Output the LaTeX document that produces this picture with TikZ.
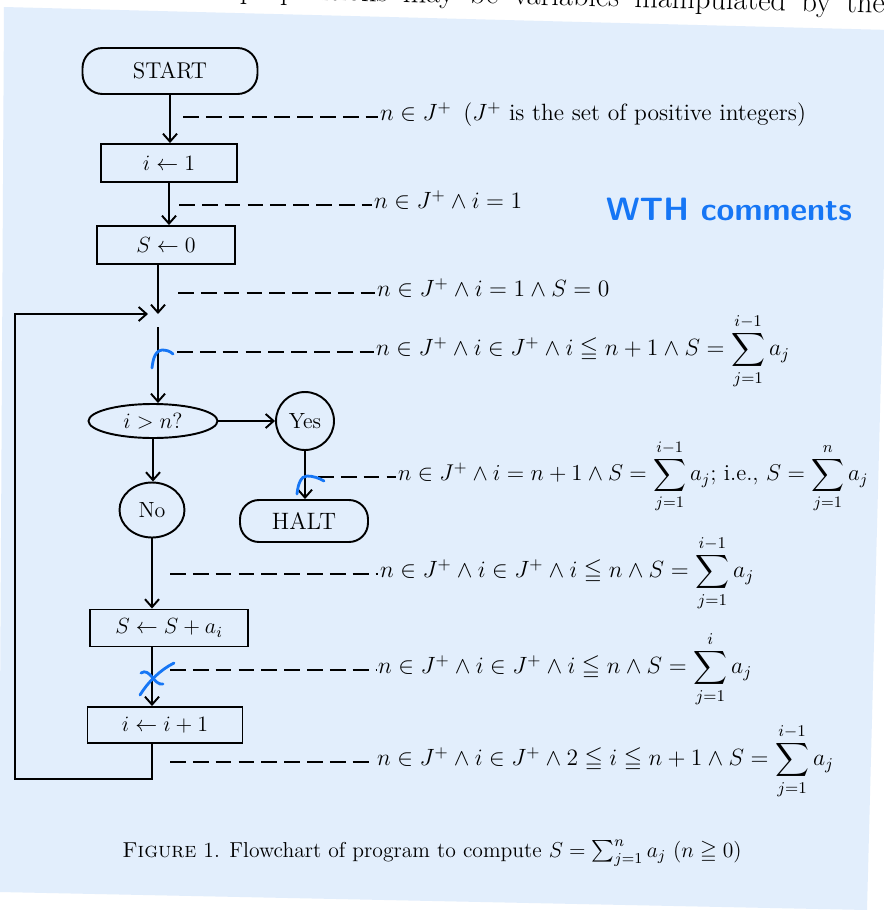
\RequirePackage{fix-cm}
\documentclass[tikz,border=0pt]{standalone}
\usepackage{amsmath,amssymb}
\usepackage{tikz}
\usetikzlibrary{arrows.meta,positioning,calc,shapes.geometric}
\definecolor{scanblue}{RGB}{226,238,252}
\definecolor{penblue}{RGB}{22,118,245}

\begin{document}
\begin{tikzpicture}[x=0.02cm, y=-0.02cm,
  box/.style={draw, line width=1.1pt, minimum height=0.76cm, inner sep=0pt,
    font=\fontsize{12.5}{15}\selectfont},
  oval/.style={ellipse, draw, line width=1.1pt, inner sep=0pt,
    font=\fontsize{12.5}{15}\selectfont},
  flow/.style={->, line width=1.1pt},
  note/.style={anchor=mid west, inner sep=1pt, font=\fontsize{13.4}{16}\selectfont},
  lead/.style={line width=0.8pt, dash pattern=on 9pt off 4pt},
  pen/.style={draw=penblue, line width=1.6pt, line cap=round},
  >={Straight Barb[length=4.5pt,width=8pt]}
]
% scanned page
\useasboundingbox (0,0) rectangle (883,910);
\fill[white] (0,0) rectangle (883,910);
\fill[scanblue] (4,7) -- (890,30) -- (867,910) -- (-1,892) -- cycle;

% running text above the figure
\node[anchor=base east, rotate=-1.3, font=\LARGE, inner sep=0pt] (prose) at (885,13)
  {\makebox[12.9cm][s]{propositions may be variables manipulated by the}};

% Flowchart
\node[box, rounded corners=0.4cm, minimum width=3.5cm, minimum height=0.92cm,
  font=\fontsize{13}{15}\selectfont] (start) at (170,71) {START};
\node[box, minimum width=2.72cm] (seti) at (169,163) {$i \leftarrow 1$};
\node[box, minimum width=2.76cm] (sets) at (166,245) {$S \leftarrow 0$};
\node[oval, minimum width=2.58cm, minimum height=0.68cm] (test) at (153,421)
  {$i > n?$};
\node[oval, minimum width=1.16cm, minimum height=1.16cm] (yes) at (305,421) {Yes};
\node[oval, minimum width=1.3cm, minimum height=1.1cm] (no) at (152,510) {No};
\node[box, rounded corners=0.38cm, minimum width=2.56cm, minimum height=0.84cm,
  font=\fontsize{13.5}{16}\selectfont] (halt) at (304,521) {HALT};
\node[box, minimum width=3.16cm, minimum height=0.74cm] (adds) at (169,628)
  {$S \leftarrow S + a_i$};
\node[box, minimum width=3.1cm, minimum height=0.72cm] (inci) at (165,725)
  {$i \leftarrow i + 1$};

% Connectors
\coordinate (join) at (158,314);
\coordinate (back) at (15,779);
\draw[flow] (start.south) -- (start.south |- seti.north);
\draw[flow] (seti.south) -- (seti.south |- sets.north);
\draw[flow] (sets.south -| join) -- (join);
\draw[flow, shorten <=0.26cm] (join) -- (join |- test.north);
\draw[flow] (test.east) -- (yes.west);
\draw[flow] (yes.south) -- (yes.south |- halt.north);
\draw[flow] (test.south) -- (test.south |- no.north);
\draw[flow] (no.south) -- (no.south |- adds.north);
\draw[flow] (adds.south -| no.south) -- (no.south |- inci.north);
\draw[flow, shorten >=0.2cm] (no.south |- inci.south) -- (no.south |- back)
  -- (back) |- (join);

% Comments
\coordinate (c1) at (183,117);
\node[note] (n1) at (378,117)
  {$n \in J^+$\enspace($J^+$ is the set of positive integers)};
\draw[lead] (c1) -- (n1.mid west);

\coordinate (c2) at (179,205);
\node[note] (n2) at (372,205) {$n \in J^+ \wedge i = 1$};
\draw[lead] (c2) -- (n2.mid west);

\coordinate (c3) at (178,293);
\node[note] (n3) at (375,293) {$n \in J^+ \wedge i = 1 \wedge S = 0$};
\draw[lead] (c3) -- (n3.mid west);

\coordinate (c4) at (177,352);
\node[note] (n4) at (374,352)
  {$n \in J^+ \wedge i \in J^+ \wedge i \leqq n + 1 \wedge
    S = \displaystyle\sum_{j=1}^{i-1} a_j$};
\draw[lead] (c4) -- (n4.mid west);

\coordinate (c5) at (318,477);
\node[note, font=\fontsize{13}{16}\selectfont] (n5) at (396,477)
  {$n \in J^+ \wedge i = n + 1 \wedge S = \displaystyle\sum_{j=1}^{i-1} a_j$; i.e.,
   $S = \displaystyle\sum_{j=1}^{n} a_j$};
\draw[lead] (c5) -- (n5.mid west);

\coordinate (c6) at (170,574);
\node[note] (n6) at (378,574)
  {$n \in J^+ \wedge i \in J^+ \wedge i \leqq n \wedge
    S = \displaystyle\sum_{j=1}^{i-1} a_j$};
\draw[lead] (c6) -- (n6.mid west);

\coordinate (c7) at (170,670);
\node[note] (n7) at (376,670)
  {$n \in J^+ \wedge i \in J^+ \wedge i \leqq n \wedge
    S = \displaystyle\sum_{j=1}^{i} a_j$};
\draw[lead] (c7) -- (n7.mid west);

\coordinate (c8) at (170,762);
\node[note] (n8) at (375,762)
  {$n \in J^+ \wedge i \in J^+ \wedge 2 \leqq i \leqq n + 1 \wedge
    S = \displaystyle\sum_{j=1}^{i-1} a_j$};
\draw[lead] (c8) -- (n8.mid west);

% Caption
\node[anchor=base, font=\fontsize{12.3}{15}\selectfont] (caption) at (432,857)
  {\textsc{Figure} 1. Flowchart of program to compute
   $S = \sum_{j=1}^{n} a_j$ ($n \geqq 0$)};

% pen notes
\node[font=\fontsize{18.4}{22}\selectfont\sffamily\bfseries, text=penblue] (wth)
  at (729,209) {WTH comments};
\draw[pen] (152,368) .. controls (153,359) and (155,351) .. (162,350)
  .. controls (166,350) and (170,351) .. (173,354);
\draw[pen] (297,494) .. controls (298,484) and (301,476) .. (307,476)
  .. controls (313,476) and (319,478) .. (324,481);
\draw[pen] (141,673) .. controls (150,667) and (154,686) .. (163,684);
\draw[pen] (174,663) .. controls (160,670) and (148,682) .. (140,695);
\end{tikzpicture}
\end{document}
